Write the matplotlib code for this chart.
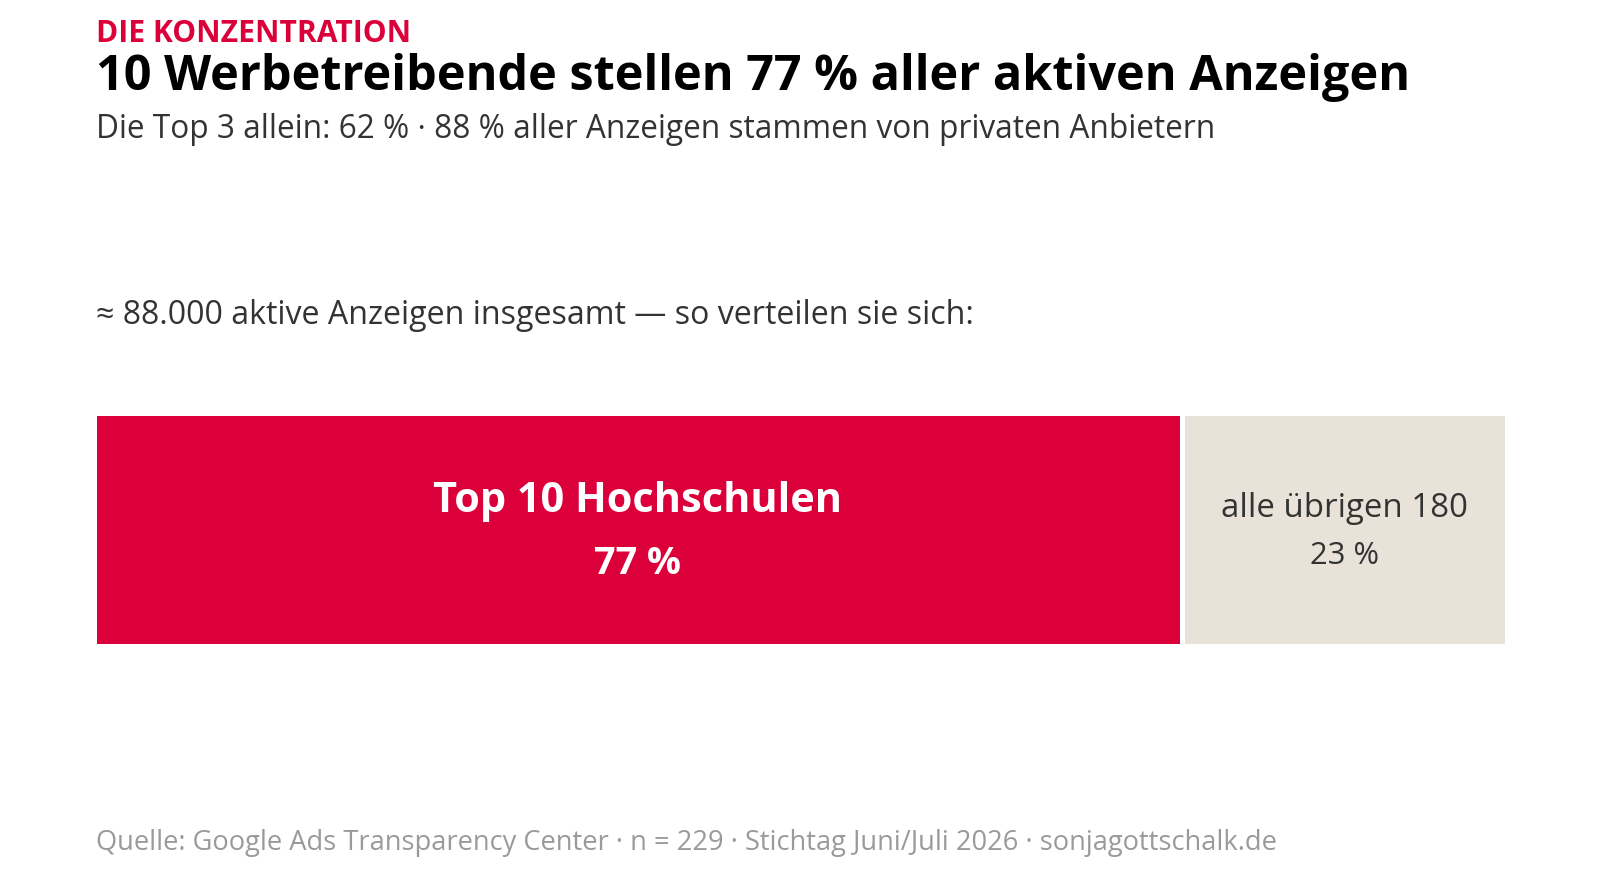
import matplotlib
matplotlib.use("Agg")
import matplotlib.pyplot as plt

# ---- data ----
kicker = "DIE KONZENTRATION"
title = "10 Werbetreibende stellen 77 % aller aktiven Anzeigen"
subtitle = "Die Top 3 allein: 62 % · 88 % aller Anzeigen stammen von privaten Anbietern"
note = "≈ 88.000 aktive Anzeigen insgesamt — so verteilen sie sich:"
segment_names = ["Top 10 Hochschulen", "alle übrigen 180"]
segment_shares = [77, 23]
footer = "Quelle: Google Ads Transparency Center · n = 229 · Stichtag Juni/Juli 2026 · sonjagottschalk.de"

RED = "#DC003A"
BEIGE = "#E8E2D8"
DARK = "#333333"
GREY = "#9A9A9A"
FONT = ["Open Sans", "DejaVu Sans"]

W, H = 1600, 880
fig = plt.figure(figsize=(W / 100, H / 100), dpi=100)
fig.patch.set_facecolor("white")

def fx(x):
    return x / W

def fy(y):
    return 1 - y / H

# bar axes: bar spans x 96..1504, y 415..643 ; white edge 5px => extend by 2.5px
gap = 2.5
ax = fig.add_axes([fx(96 - gap), fy(643 + gap), (1408 + 2 * gap) / W, (228 + 2 * gap) / H])
ax.set_xlim(0, sum(segment_shares))
ax.set_ylim(-0.5, 0.5)
ax.axis("off")
lefts = [0, segment_shares[0]]
colors = [RED, BEIGE]
ax.barh([0, 0], segment_shares, left=lefts, height=1.0, color=colors,
        edgecolor="white", linewidth=5 * 72 / 100)

renderer = fig.canvas.get_renderer()

def fit_text(x, y, s, target_w, weight="normal", color=DARK, ha="left", transform=None, base=20):
    kw = dict(fontsize=base, fontweight=weight, color=color, ha=ha, va="baseline", family=FONT)
    if transform is None:
        t = fig.text(x, y, s, **kw)
    else:
        t = ax.text(x, y, s, transform=transform, **kw)
    w = t.get_window_extent(renderer).width
    t.set_fontsize(base * target_w / w)
    return t

fit_text(fx(96), fy(42), kicker, 314, weight="bold", color=RED)
fit_text(fx(96), fy(90), title, 1315, weight="bold", color="black")
fit_text(fx(96), fy(138), subtitle, 1115, color=DARK)
fit_text(fx(96), fy(324), note, 876, color=DARK)

# segment labels
cx0 = lefts[0] + segment_shares[0] / 2
cx1 = lefts[1] + segment_shares[1] / 2
blend = matplotlib.transforms.blended_transform_factory(ax.transData, fig.transFigure)
fit_text(cx0, fy(512), segment_names[0], 409, weight="bold", color="white", ha="center", transform=blend)
fit_text(cx0, fy(574), f"{segment_shares[0]} %", 87, weight="bold", color="white", ha="center", transform=blend)
fit_text(cx1, fy(517), segment_names[1], 246, color=DARK, ha="center", transform=blend)
fit_text(cx1, fy(564), f"{segment_shares[1]} %", 69, color=DARK, ha="center", transform=blend)

fit_text(fx(96), fy(850), footer, 1178, color=GREY)

fig.savefig("out.png", dpi=100, facecolor="white")
